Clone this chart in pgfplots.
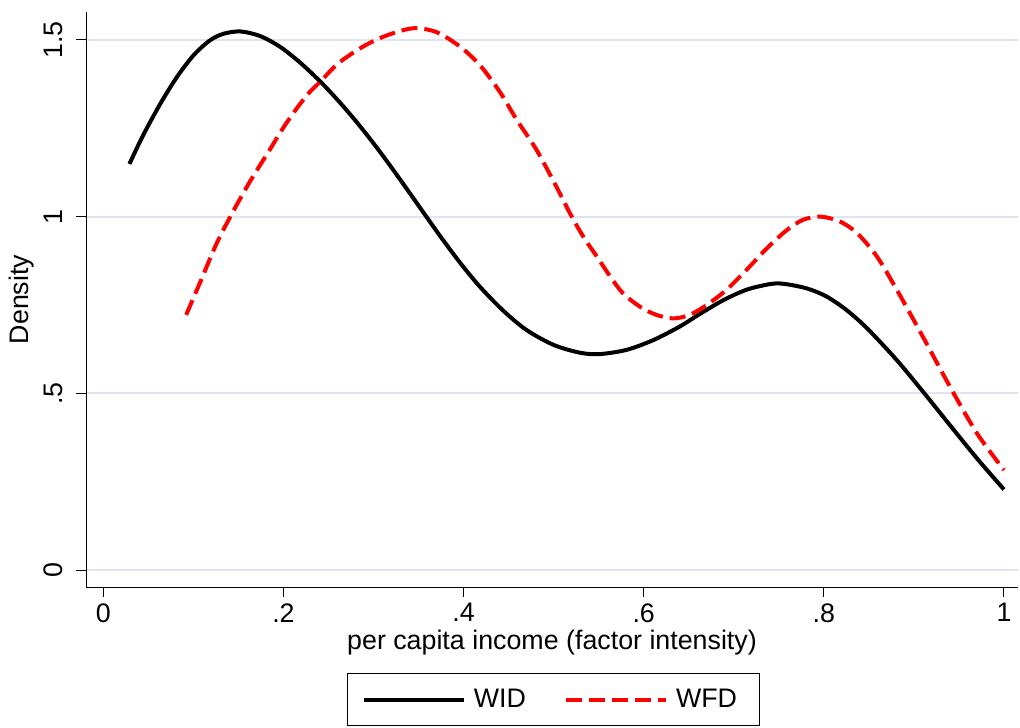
\documentclass[border=0pt]{standalone}
\usepackage{fontspec}
\setmainfont{Liberation Sans}
\usepackage{pgfplots}
\pgfplotsset{compat=1.18}
\definecolor{gridc}{RGB}{222,228,240}
\definecolor{wfdred}{RGB}{255,0,0}
\newcommand{\chartfont}{\fontsize{13.4}{16}\selectfont}
\begin{document}
\begin{tikzpicture}[x=1pt,y=1pt]
\useasboundingbox (0,0) rectangle (510,363.5);
\begin{axis}[
  at={(43pt,70pt)}, anchor=south west,
  scale only axis, width=466pt, height=287.5pt,
  xmin=-0.0192, xmax=1.0156, ymin=-0.048, ymax=1.579,
  axis x line*=bottom, axis y line*=left,
  axis line style={line width=0.5pt, black},
  xtick={0,0.2,0.4,0.6,0.8,1}, xticklabels={0,.2,.4,.6,.8,1},
  ytick={0,0.5,1,1.5}, yticklabels={0,.5,1,1.5},
  tick align=outside, major tick length=5pt,
  tick style={black, line width=0.5pt},
  ymajorgrids, grid style={gridc, line width=1pt},
  tick label style={font=\chartfont},
  xticklabel style={anchor=north, inner sep=0pt, yshift=-3pt},
  yticklabel style={rotate=90, anchor=south, inner sep=0pt, yshift=6.5pt},
  xlabel={per capita income (factor intensity)},
  ylabel={Density},
  label style={font=\chartfont},
  xlabel style={at={(axis description cs:0.5,-0.0974)}, anchor=center},
  ylabel style={at={(axis description cs:-0.0687,0.5)}, anchor=center},
  legend columns=2,
  legend image code/.code={\draw[#1] (0pt,0pt) -- (50pt,0pt);},
  legend style={at={(0.5016,-0.1957)}, anchor=center, draw=black, line width=0.5pt,
    font=\chartfont, inner xsep=7pt, inner ysep=4.75pt,
    nodes={inner xsep=4pt, inner ysep=3pt},
    /tikz/every even column/.append style={column sep=15pt}},
]
\addplot[black, line width=2pt, smooth] coordinates {
(0.029,1.149) (0.044,1.229) (0.063,1.318) (0.0815,1.394) (0.100,1.456)
(0.118,1.498) (0.133,1.517) (0.152,1.524) (0.174,1.511) (0.196,1.481)
(0.218,1.437) (0.241,1.382) (0.263,1.322) (0.285,1.256) (0.307,1.184)
(0.329,1.107) (0.352,1.024) (0.374,0.945) (0.396,0.870) (0.418,0.802)
(0.444,0.734) (0.470,0.679) (0.500,0.637) (0.529,0.615) (0.551,0.611)
(0.581,0.623) (0.611,0.651) (0.640,0.689) (0.662,0.724) (0.688,0.763)
(0.714,0.793) (0.740,0.809) (0.755,0.810) (0.781,0.797) (0.803,0.774)
(0.825,0.736) (0.848,0.684) (0.881,0.594) (0.910,0.505) (0.940,0.410)
(0.970,0.316) (1.000,0.228)
};
\addlegendentry{WID}
\addplot[wfdred, line width=2pt, smooth, dash pattern=on 8pt off 3.5pt] coordinates {
(0.092,0.722) (0.107,0.811) (0.126,0.925) (0.144,1.014) (0.163,1.100)
(0.185,1.190) (0.200,1.252) (0.215,1.307) (0.229,1.352) (0.241,1.382)
(0.261,1.434) (0.289,1.482) (0.315,1.513) (0.344,1.533) (0.370,1.522)
(0.396,1.481) (0.418,1.429) (0.440,1.354) (0.459,1.274) (0.481,1.189)
(0.503,1.085) (0.518,1.010) (0.533,0.943) (0.548,0.887) (0.563,0.830)
(0.577,0.783) (0.596,0.745) (0.614,0.722) (0.633,0.712) (0.651,0.722)
(0.670,0.750) (0.692,0.793) (0.714,0.849) (0.737,0.911) (0.759,0.962)
(0.777,0.991) (0.796,1.000) (0.818,0.986) (0.837,0.953) (0.859,0.887)
(0.881,0.793) (0.910,0.660) (0.940,0.519) (0.970,0.387) (1.000,0.283)
};
\addlegendentry{WFD}
\end{axis}
\end{tikzpicture}
\end{document}
